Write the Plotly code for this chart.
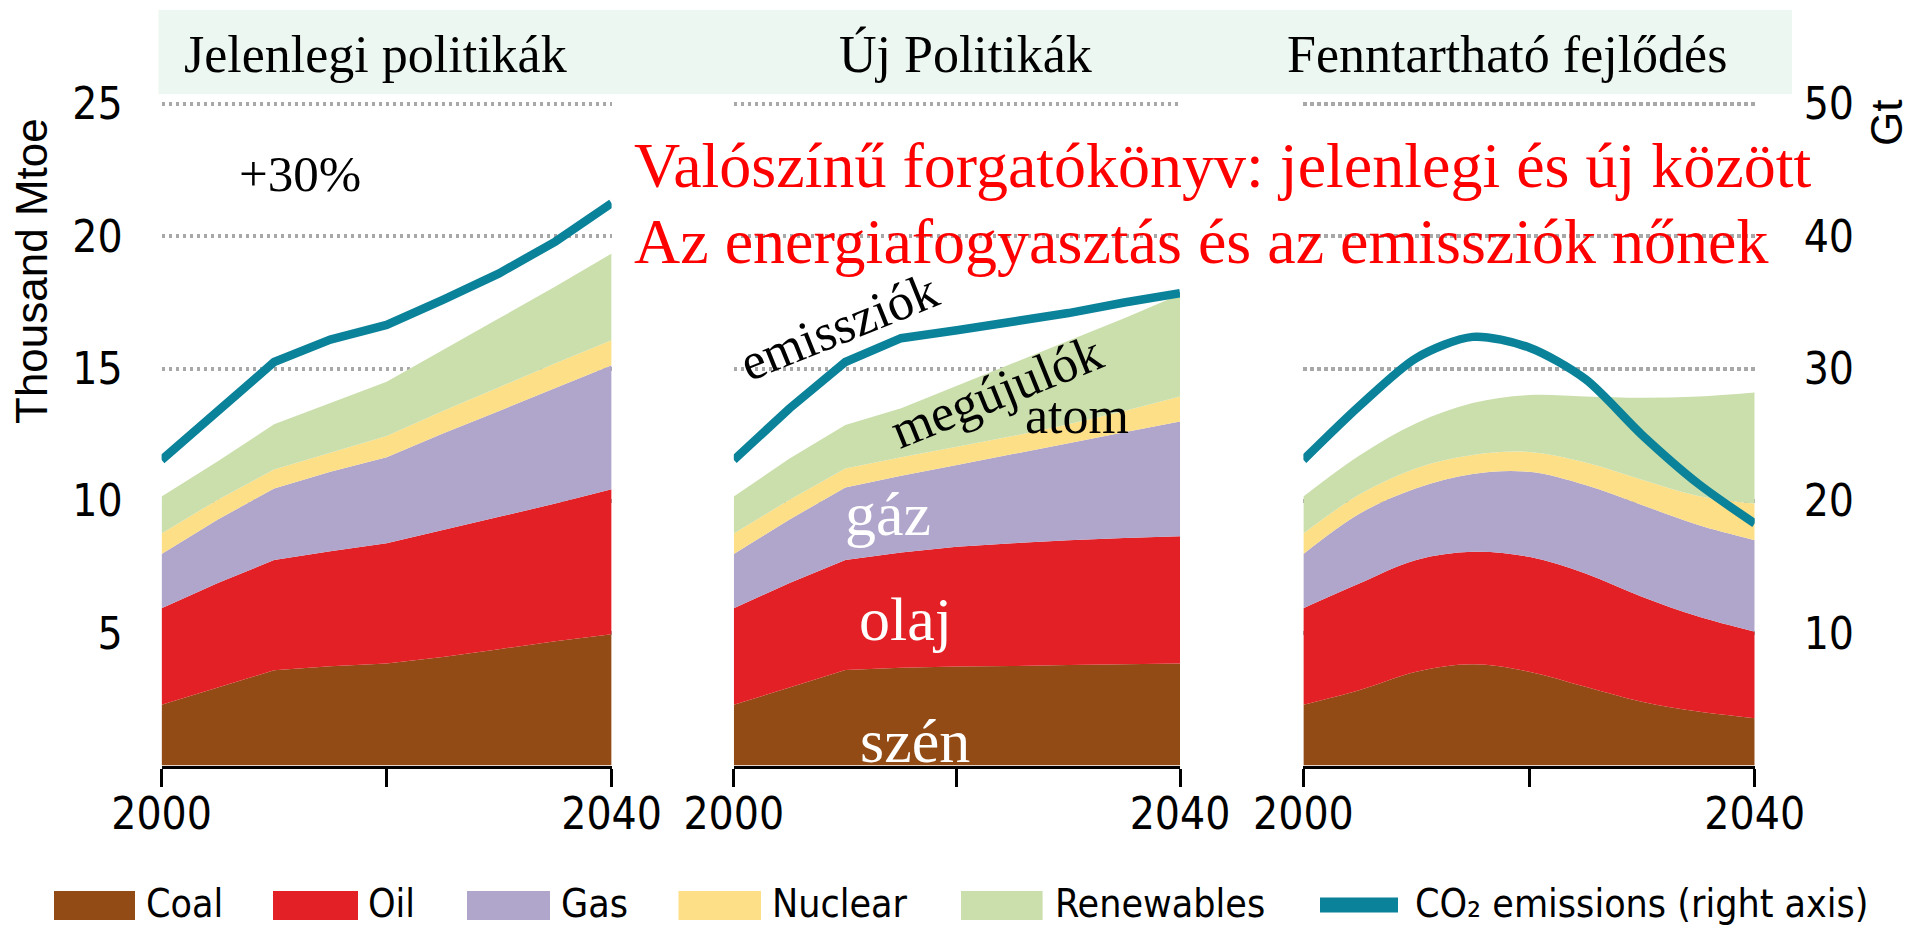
import plotly.graph_objects as go

# ---------------- data ----------------
years = [2000, 2005, 2010, 2015, 2020, 2025, 2030, 2035, 2040]

scenario_titles = ["Jelenlegi politikák", "Új Politikák", "Fenntartható fejlődés"]
fuel_names = ["Coal", "Oil", "Gas", "Nuclear", "Renewables"]
co2_name = "CO₂ emissions (right axis)"

# Jelenlegi politikák (thousand Mtoe)
cps_coal = [2.30, 2.95, 3.60, 3.75, 3.86, 4.10, 4.40, 4.70, 4.96]
cps_oil = [3.65, 3.95, 4.17, 4.35, 4.54, 4.80, 5.00, 5.20, 5.48]
cps_gas = [2.05, 2.40, 2.70, 3.00, 3.25, 3.65, 4.00, 4.37, 4.69]
cps_nuclear = [0.77, 0.75, 0.72, 0.72, 0.80, 0.85, 0.90, 0.93, 0.94]
cps_renew = [1.40, 1.45, 1.71, 1.88, 2.05, 2.30, 2.60, 2.90, 3.28]
cps_co2 = [23.1, 26.9, 30.5, 32.2, 33.3, 35.2, 37.2, 39.6, 42.5]  # Gt

# Új Politikák
sps_coal = [2.30, 2.95, 3.61, 3.70, 3.74, 3.76, 3.80, 3.83, 3.86]
sps_oil = [3.65, 3.95, 4.16, 4.35, 4.53, 4.64, 4.72, 4.77, 4.81]
sps_gas = [2.05, 2.40, 2.74, 2.90, 3.09, 3.37, 3.66, 4.00, 4.33]
sps_nuclear = [0.77, 0.75, 0.72, 0.70, 0.69, 0.68, 0.72, 0.80, 0.95]
sps_renew = [1.40, 1.55, 1.64, 1.85, 2.30, 2.75, 3.15, 3.50, 3.85]
sps_co2 = [23.1, 27.0, 30.5, 32.3, 32.9, 33.5, 34.2, 35.0, 35.7]

# Fenntartható fejlődés
sds_coal = [2.30, 2.86, 3.55, 3.83, 3.55, 2.98, 2.41, 2.04, 1.79]
sds_oil = [3.65, 4.03, 4.22, 4.25, 4.34, 4.28, 3.97, 3.59, 3.27]
sds_gas = [2.05, 2.64, 2.71, 2.94, 3.21, 3.34, 3.47, 3.46, 3.46]
sds_nuclear = [0.77, 0.72, 0.76, 0.72, 0.75, 0.85, 0.95, 1.10, 1.38]
sds_renew = [1.40, 1.48, 1.70, 1.96, 2.15, 2.50, 3.10, 3.76, 4.20]
sds_co2 = [23.1, 27.2, 30.8, 32.4, 31.6, 29.2, 25.0, 21.3, 18.3]

left_ticks = [5, 10, 15, 20, 25]
right_ticks = [10, 20, 30, 40, 50]
x_ticks = [2000, 2040]
x_minor_ticks = [2020]

# ---------------- styles ----------------
fuel_colors = ["#934B15", "#E32026", "#B0A5CA", "#FDDF87", "#CBDFAD"]
co2_color = "#0A8299"
band_color = "#EDF7F1"
SERIF = "Liberation Serif, Times New Roman, serif"
NARROW = "Liberation Sans Narrow, Arial Narrow, DejaVu Sans Condensed, sans-serif"
SANS = "Liberation Sans, Arial, sans-serif"

W, H, OFF = 1907, 918, 8


def px(X):
    return (X - OFF) / W


def py(Y):
    return 1 - (Y - OFF) / H


panels_px = [(161.6, 611.6), (733.8, 1180.0), (1303.4, 1754.7)]
y_top_px, y_bot_px = 101.35, 765.6   # pixel rows of 25.1 and 0
y_max = 25.1

scenarios = [
    [cps_coal, cps_oil, cps_gas, cps_nuclear, cps_renew, cps_co2],
    [sps_coal, sps_oil, sps_gas, sps_nuclear, sps_renew, sps_co2],
    [sds_coal, sds_oil, sds_gas, sds_nuclear, sds_renew, sds_co2],
]
shapes_line = ["linear", "linear", "spline"]

fig = go.Figure()

for i, sc in enumerate(scenarios):
    n = i + 1
    xa = "x" if n == 1 else f"x{n}"
    ya = "y" if n == 1 else f"y{n}"
    yr = f"y{n + 3}"
    for k in range(5):
        fig.add_trace(go.Scatter(
            x=years, y=sc[k], xaxis=xa, yaxis=ya,
            name=fuel_names[k], stackgroup=f"s{n}", mode="none",
            fillcolor=fuel_colors[k],
            line=dict(width=0, shape=shapes_line[i]),
            showlegend=False, hoverinfo="x+y+name",
        ))
    fig.add_trace(go.Scatter(
        x=years, y=sc[5], xaxis=xa, yaxis=yr, name="CO2", mode="lines",
        line=dict(color=co2_color, width=8.5, shape=shapes_line[i], smoothing=0.8),
        showlegend=False,
    ))

layout = dict(
    width=W, height=H, margin=dict(l=0, r=0, t=0, b=0, pad=0, autoexpand=False),
    paper_bgcolor="white", plot_bgcolor="rgba(0,0,0,0)",
    showlegend=False,
)

ydom = [py(y_bot_px), py(y_top_px)]
for i, (x0, x1) in enumerate(panels_px):
    n = i + 1
    sx = "" if n == 1 else str(n)
    layout[f"xaxis{sx}"] = dict(
        domain=[px(x0), px(x1)], range=[2000, 2040], anchor="y" if n == 1 else f"y{n}",
        tickvals=x_ticks, ticks="outside", ticklen=18, tickwidth=3,
        tickcolor="black", showline=True, linewidth=3, linecolor="black",
        minor=dict(tickvals=x_minor_ticks, ticks="outside", ticklen=18, tickwidth=3,
                   tickcolor="black", showgrid=False),
        showgrid=False, zeroline=False, ticklabelstandoff=-10, automargin=False,
        tickfont=dict(family=NARROW, size=44, color="black"), fixedrange=True,
    )
    layout[f"yaxis{sx}"] = dict(
        domain=ydom, range=[0, y_max], anchor="x" if n == 1 else f"x{n}",
        tickvals=left_ticks, showgrid=True, gridcolor="#A8A8A8", gridwidth=3.5,
        griddash="dot", zeroline=False, showline=False, ticks="",
        showticklabels=(n == 1), ticklabelstandoff=38, automargin=False,
        tickfont=dict(family=NARROW, size=44, color="black"),
    )
    layout[f"yaxis{n + 3}"] = dict(
        overlaying="y" if n == 1 else f"y{n}", anchor="x" if n == 1 else f"x{n}",
        side="right", range=[0, 2 * y_max], tickvals=right_ticks, showgrid=False,
        zeroline=False, showline=False, ticks="", showticklabels=(n == 3),
        ticklabelstandoff=48, automargin=False,
        tickfont=dict(family=NARROW, size=44, color="black"),
    )

shapes = [dict(type="rect", xref="paper", yref="paper", x0=px(158.5), x1=px(1792),
               y0=py(94), y1=py(10), fillcolor=band_color, line=dict(width=0), layer="below")]

annotations = []


def ann(text, X, Y, size, color="black", family=SERIF, xanchor="center", yanchor="middle", angle=0):
    annotations.append(dict(text=text, x=px(X), y=py(Y), xref="paper", yref="paper",
                            showarrow=False, xanchor=xanchor, yanchor=yanchor, textangle=angle,
                            font=dict(family=family, size=size, color=color)))


# panel titles
title_x = [375, 965, 1507]
for t, X in zip(scenario_titles, title_x):
    ann(t, X, 54, 52)

# red headline
ann("Valószínű forgatókönyv: jelenlegi és új között", 632, 165, 64, color="#FF0000", xanchor="left")
ann("Az energiafogyasztás és az emissziók nőnek", 632, 242, 64, color="#FF0000", xanchor="left")

ann("+30%", 300, 174, 51)
ann("emissziók", 839, 327, 52, angle=-22)
ann("megújulók", 996, 391, 52, angle=-22)
ann("atom", 1077, 415, 52)
ann("gáz", 888, 514, 62, color="white")
ann("olaj", 905, 619, 62, color="white")
ann("szén", 915, 741, 62, color="white")

# axis titles
ann("Thousand Mtoe", 31, 271, 44, family=SANS, angle=-90)
ann("Gt", 1887, 123, 44, family=SANS, angle=-90)

# legend (manual)
legend_swatches = [(54, 135), (273, 358), (467, 550), (678.5, 761), (961, 1042.6)]
legend_text_x = [144, 366, 558.5, 770, 1053]
for k in range(5):
    a, b = legend_swatches[k]
    shapes.append(dict(type="rect", xref="paper", yref="paper", x0=px(a), x1=px(b),
                       y0=py(920), y1=py(891), fillcolor=fuel_colors[k], line=dict(width=0)))
    ann(fuel_names[k], legend_text_x[k], 903, 39, family=NARROW, xanchor="left")
shapes.append(dict(type="line", xref="paper", yref="paper", x0=px(1320), x1=px(1398),
                   y0=py(905), y1=py(905), line=dict(color=co2_color, width=15)))
ann(co2_name, 1413, 903, 39, family=NARROW, xanchor="left")

layout["shapes"] = shapes
layout["annotations"] = annotations
fig.update_layout(**layout)

fig.write_html("out.html")
